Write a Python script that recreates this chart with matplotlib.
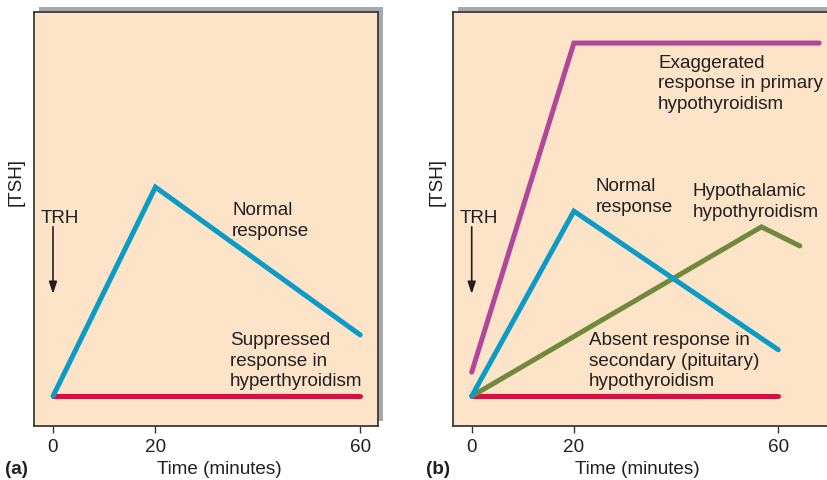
import matplotlib.pyplot as plt
from matplotlib.patches import Rectangle

plt.rcParams['font.family'] = ['Liberation Sans', 'DejaVu Sans']

# time points (minutes) and [TSH] (arbitrary units, 0-100 axis)
normal_a_t = [0, 20, 60]
normal_a_y = [7.2, 57.7, 22.0]
hyper_t = [0, 60]
hyper_y = [7.2, 7.2]

primary_t = [0, 20, 68]
primary_y = [13.0, 92.5, 92.5]
normal_b_t = [0, 20, 60]
normal_b_y = [7.2, 51.9, 18.4]
hypothal_t = [0, 56.7, 64.2]
hypothal_y = [7.2, 48.1, 43.5]
secondary_t = [0, 60]
secondary_y = [7.2, 7.2]

xticks = [0, 20, 60]

BG = '#FDE3C8'
SHADOW = '#A7A9AC'
BLUE = '#0A9BC6'
RED = '#D4123F'
MAGENTA = '#B0479A'
GREEN = '#6F8A3A'
INK = '#231f20'
FS = 13.6
LS = 1.28

W, H = 827, 481
fig = plt.figure(figsize=(W / 100, H / 100), dpi=100)


def px_axes(left, top, right, bottom):
    return [left / W, 1 - bottom / H, (right - left) / W, (bottom - top) / H]


def add_shadow(left, top, right, bottom, dx=5, dy=5):
    # gray drop shadow behind the plot frame, in pixel coords
    r = Rectangle((left + dx, H - bottom + dy), right - left, bottom - top,
                  transform=None, facecolor=SHADOW, edgecolor='none', zorder=-5)
    fig.patches.append(r)


def style(ax, xlim):
    ax.set_facecolor(BG)
    ax.set_xlim(*xlim)
    ax.set_ylim(0, 100)
    ax.set_xticks(xticks)
    ax.set_xticklabels([str(t) for t in xticks], fontsize=FS, color=INK)
    ax.set_yticks([])
    ax.tick_params(axis='x', length=5, width=1, color='#333333', pad=4)
    for s in ax.spines.values():
        s.set_color('#3a3a3a')
        s.set_linewidth(1.3)


def trh(ax):
    ax.text(1.3, 52.4, 'TRH', ha='center', va='top', fontsize=FS, color=INK)
    ax.annotate('', xy=(0, 31.9), xytext=(0, 48.1),
                arrowprops=dict(arrowstyle='-|>,head_length=0.6,head_width=0.2',
                                color=INK, lw=1.2, mutation_scale=12,
                                shrinkA=0, shrinkB=0))


def line(ax, t, y, color, z=3):
    ax.plot(t, y, color=color, lw=3.6, solid_capstyle='round',
            solid_joinstyle='miter', zorder=z)


def label(ax, x, y, s):
    ax.text(x, y, s, ha='left', va='top', fontsize=FS, color=INK, linespacing=LS)


# panel (a)
add_shadow(34, 13, 378, 427)
ax1 = fig.add_axes(px_axes(34, 13, 378, 427))
style(ax1, (-19 / 5.12, 325 / 5.12))
line(ax1, hyper_t, hyper_y, RED)
line(ax1, normal_a_t, normal_a_y, BLUE)
label(ax1, 35.0, 54.3, 'Normal\nresponse')
label(ax1, 34.6, 22.9, 'Suppressed\nresponse in\nhyperthyroidism')
trh(ax1)

# panel (b)
add_shadow(453, 13, 860, 427)
ax2 = fig.add_axes(px_axes(453, 13, 860, 427))
style(ax2, ((453 - 471.7) / 5.11, (860 - 471.7) / 5.11))
line(ax2, secondary_t, secondary_y, RED)
line(ax2, hypothal_t, hypothal_y, GREEN)
line(ax2, normal_b_t, normal_b_y, BLUE, 4)
line(ax2, primary_t, primary_y, MAGENTA, 4)
label(ax2, 36.5, 89.9, 'Exaggerated\nresponse in primary\nhypothyroidism')
label(ax2, 24.3, 60.1, 'Normal\nresponse')
label(ax2, 43.3, 58.9, 'Hypothalamic\nhypothyroidism')
label(ax2, 23.0, 22.9, 'Absent response in\nsecondary (pituitary)\nhypothyroidism')
trh(ax2)

# outer labels
for xc in (219, 637.5):
    fig.text(xc / W, 1 - 470 / H, 'Time (minutes)', ha='center', va='center',
             fontsize=FS, color=INK)
fig.text(5 / W, 1 - 470 / H, '(a)', ha='left', va='center', fontsize=FS,
         fontweight='bold', color=INK)
fig.text(426 / W, 1 - 470 / H, '(b)', ha='left', va='center', fontsize=FS,
         fontweight='bold', color=INK)
for xc in (16, 437):
    fig.text(xc / W, 1 - 182 / H, '[TSH]', ha='center', va='center', rotation=90,
             fontsize=FS, color=INK)

fig.savefig('out.png', dpi=100)
